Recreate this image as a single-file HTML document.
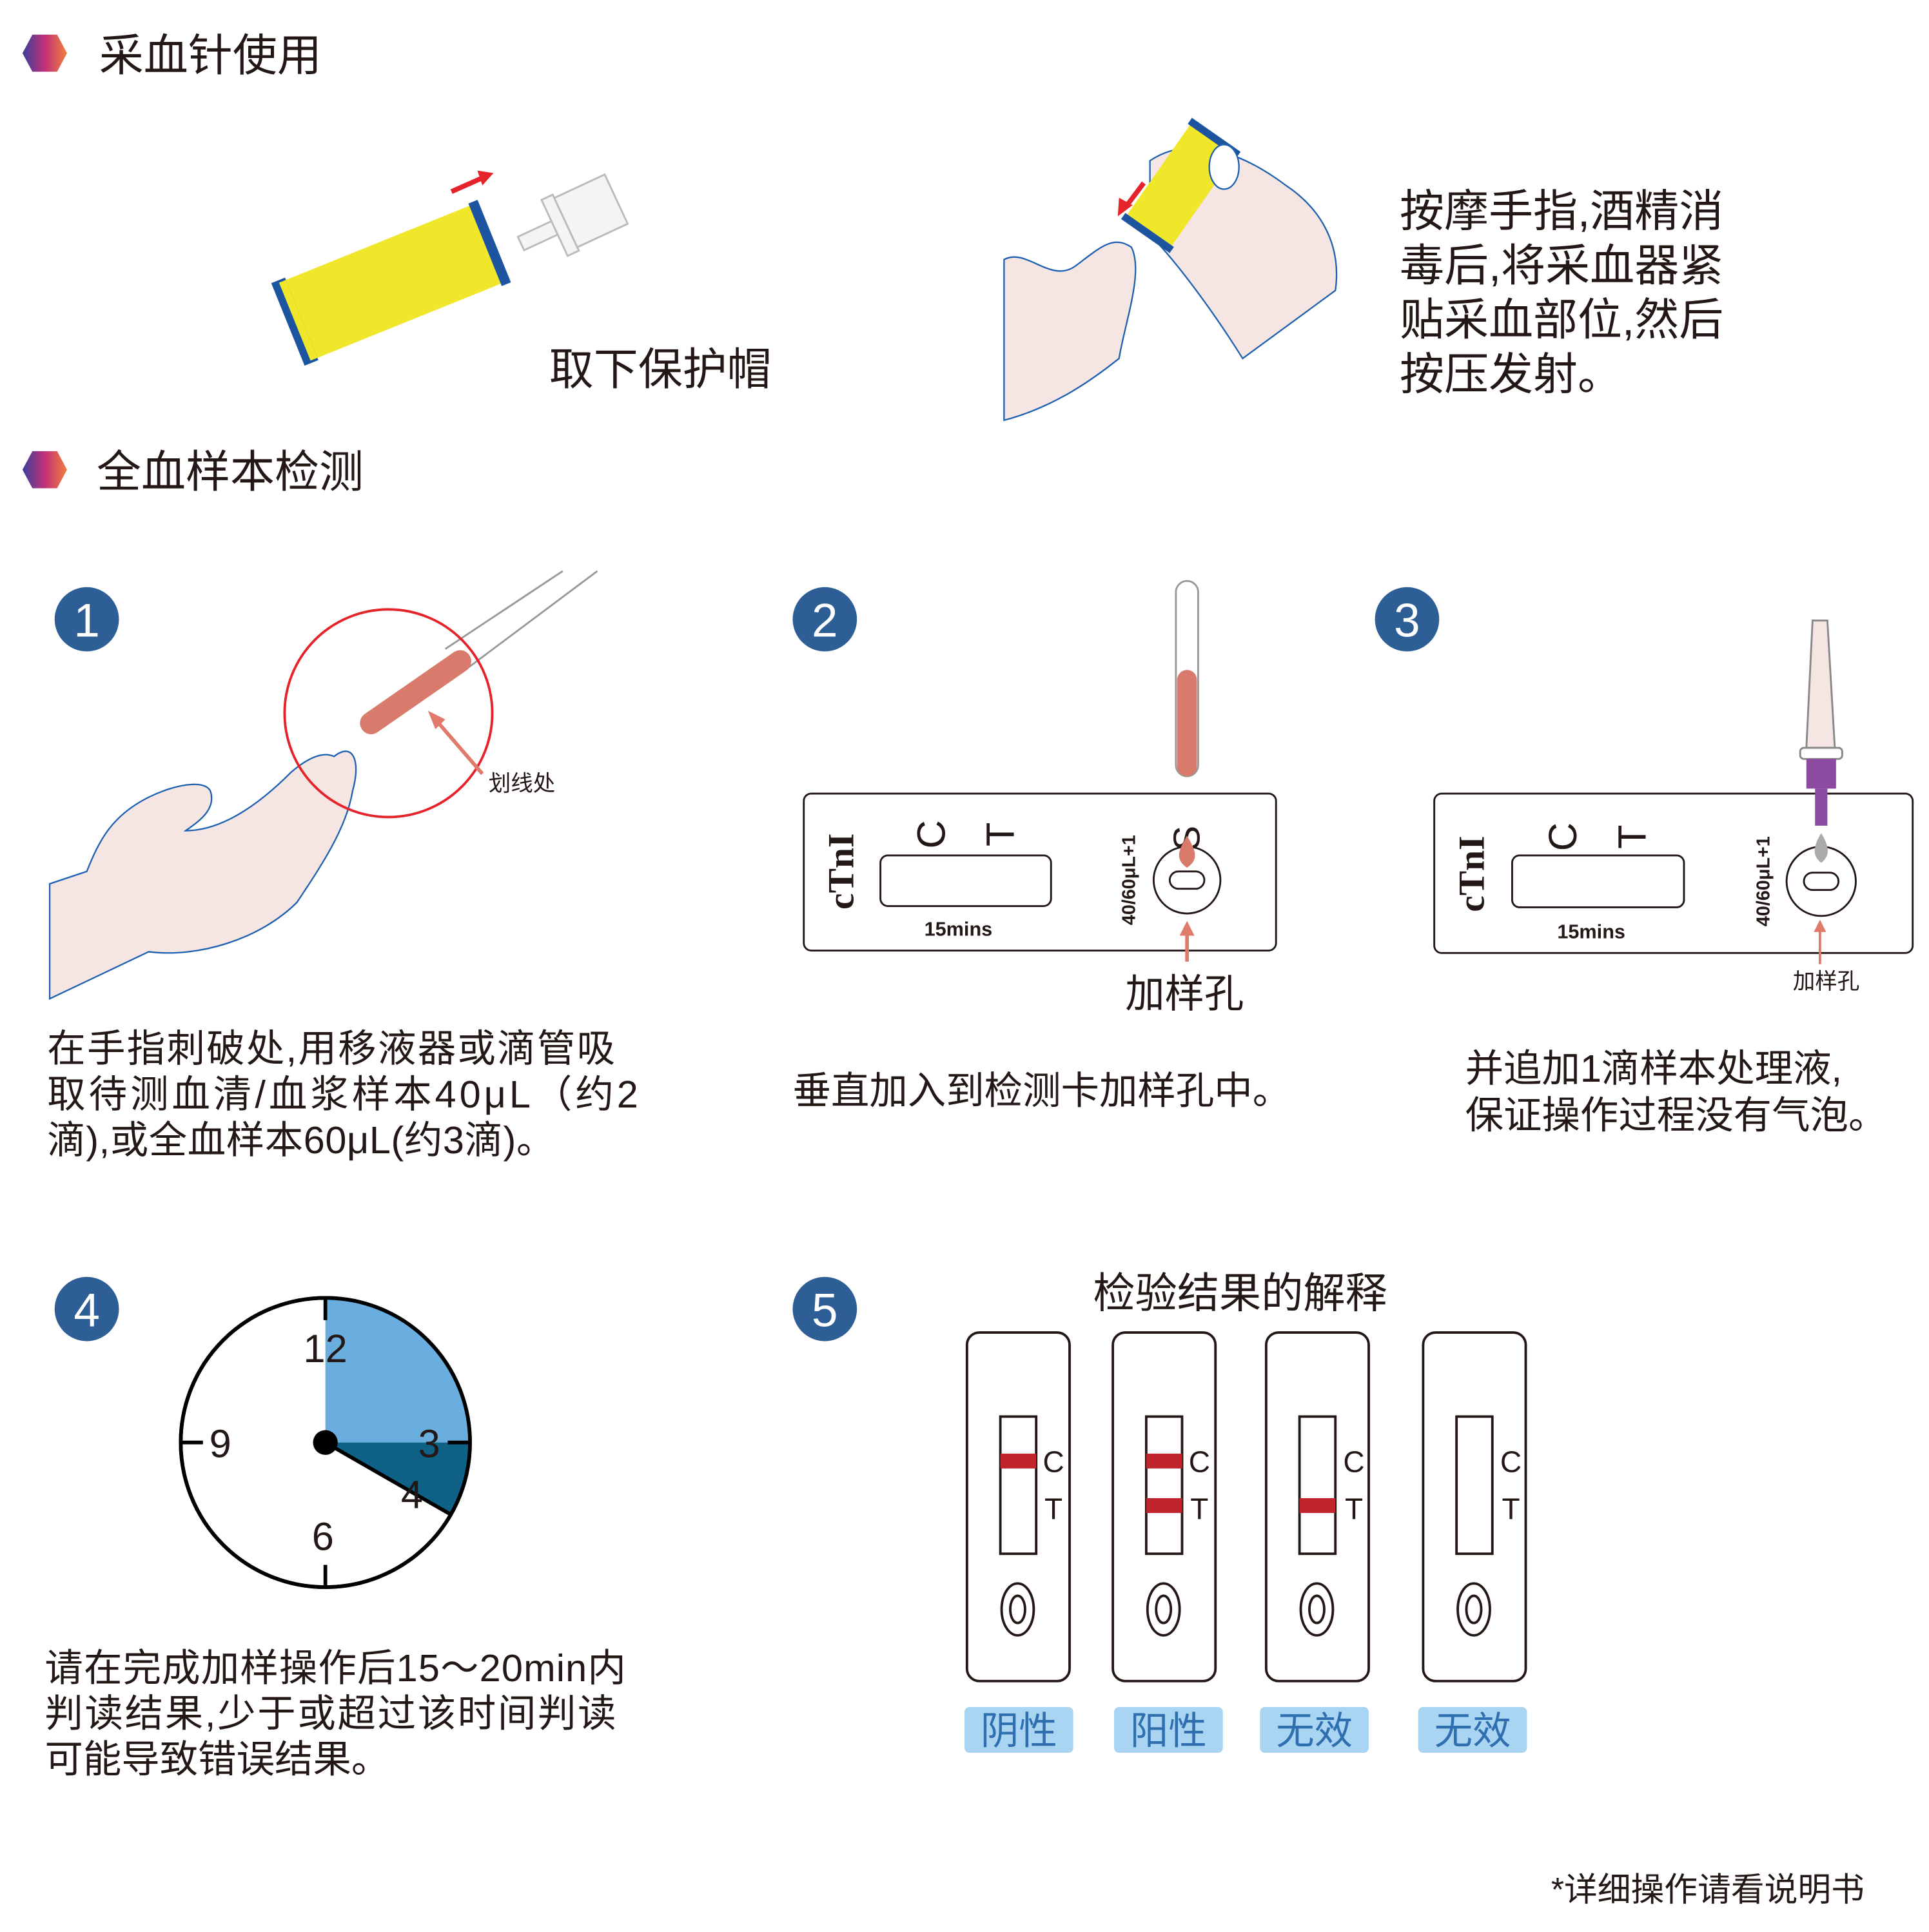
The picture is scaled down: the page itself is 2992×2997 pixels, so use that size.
<!DOCTYPE html>
<html><head><meta charset="utf-8"><style>
html,body{margin:0;padding:0;background:#fff}
svg{display:block}
text{font-family:"Liberation Sans","Noto Sans CJK SC",sans-serif;fill:#231815}
</style></head><body>
<svg width="2992" height="2997" viewBox="0 0 1560 1563" xmlns="http://www.w3.org/2000/svg">
<defs>
<linearGradient id="g" x1="0" x2="1" y1="0" y2="0"><stop offset="0" stop-color="#3a3f9c"/><stop offset="0.5" stop-color="#c2307a"/><stop offset="1" stop-color="#f07f3a"/></linearGradient>
</defs>
<rect width="1560" height="1563" fill="#fff"/>
<polygon points="18,43 26,28 46,28 54,43 46,58 26,58" fill="url(#g)"/>
<text x="80" y="57" font-size="36">采血针使用</text>
<polygon points="18,380 26,365 46,365 54,380 46,395 26,395" fill="url(#g)"/>
<text x="78" y="394" font-size="36">全血样本检测</text>

<g transform="translate(318,228) rotate(-22)">
<rect x="-80" y="-34" width="160" height="68" fill="#f0e62a"/>
<rect x="80" y="-36" width="8" height="72" fill="#1d54a0"/>
<rect x="-92" y="-36" width="12" height="72" fill="#1d54a0"/>
<rect x="-86" y="-34" width="6" height="68" fill="#f0e62a"/>
</g>
<line x1="365" y1="155" x2="392" y2="143" stroke="#e5232a" stroke-width="4"/>
<polygon points="399,140 386,138 390,150" fill="#e5232a"/>
<g transform="translate(462,178) rotate(-25)" fill="#f4f4f4" stroke="#bbb" stroke-width="1.5">
<rect x="-45" y="-6" width="30" height="12"/>
<rect x="-15" y="-25" width="10" height="50"/>
<rect x="-5" y="-22" width="45" height="44"/>
</g>
<text x="444" y="311" font-size="36">取下保护帽</text>

<path d="M812,210 C830,200 850,230 870,215 C890,200 900,190 915,200 C925,220 910,260 905,290 C880,310 850,330 812,340 Z" fill="#f5e6e4" stroke="#1d5fb0" stroke-width="1.2"/>
<path d="M930,130 C960,110 1000,120 1040,150 C1070,170 1085,200 1080,235 L1005,290 C980,250 950,210 930,190 Z" fill="#f5e6e4" stroke="#1d5fb0" stroke-width="1.2"/>
<g transform="translate(955,150) rotate(35)">
<rect x="-22" y="-45" width="44" height="90" fill="#f0e62a"/>
<rect x="-24" y="-50" width="48" height="6" fill="#1d54a0"/>
<rect x="-24" y="44" width="48" height="6" fill="#1d54a0"/>
</g>
<ellipse cx="990" cy="135" rx="12" ry="18" fill="#fff" stroke="#1d5fb0" stroke-width="1.2"/>
<line x1="925" y1="148" x2="910" y2="168" stroke="#e5232a" stroke-width="4"/>
<polygon points="904,175 905,160 916,166" fill="#e5232a"/>
<text font-size="36"><tspan x="1132" y="183">按摩手指,酒精消</tspan><tspan x="1132" y="227">毒后,将采血器紧</tspan><tspan x="1132" y="271">贴采血部位,然后</tspan><tspan x="1132" y="315">按压发射。</tspan></text>

<g fill="#2d5e95"><circle cx="70" cy="501" r="26"/><circle cx="667" cy="501" r="26"/><circle cx="1138" cy="501" r="26"/><circle cx="70" cy="1059" r="26"/><circle cx="667" cy="1059" r="26"/></g>
<g font-size="38" text-anchor="middle"><text x="70" y="515" style="fill:#fff">1</text><text x="667" y="515" style="fill:#fff">2</text><text x="1138" y="515" style="fill:#fff">3</text><text x="70" y="1073" style="fill:#fff">4</text><text x="667" y="1073" style="fill:#fff">5</text></g>

<path d="M40,715 L70,705 C80,680 90,660 120,645 C140,635 165,630 170,640 C175,655 160,665 150,672 C180,672 210,650 235,625 C250,612 262,608 270,612 C285,600 292,615 285,640 C280,670 260,700 240,730 C210,760 160,775 120,770 L40,808 Z" fill="#f5e6e4" stroke="#1d5fb0" stroke-width="1.2"/>
<line x1="360" y1="525" x2="455" y2="462" stroke="#999" stroke-width="1.5"/>
<line x1="372" y1="545" x2="483" y2="462" stroke="#999" stroke-width="1.5"/>
<line x1="300" y1="585" x2="372" y2="535" stroke="#d97b6c" stroke-width="18" stroke-linecap="round"/>
<circle cx="314" cy="577" r="84" fill="none" stroke="#e5232a" stroke-width="2"/>
<line x1="390" y1="626" x2="352" y2="582" stroke="#e07a6a" stroke-width="3"/>
<polygon points="346,575 360,582 352,590" fill="#e07a6a"/>
<text x="395" y="640" font-size="18">划线处</text>
<text font-size="31"><tspan x="38" y="859" letter-spacing="1.2">在手指刺破处,用移液器或滴管吸</tspan><tspan x="38" y="896" letter-spacing="2.6">取待测血清/血浆样本40μL（约2</tspan><tspan x="38" y="933" letter-spacing="0.3">滴),或全血样本60μL(约3滴)。</tspan></text>

<rect x="951" y="470" width="18" height="158" rx="9" fill="#fff" stroke="#999" stroke-width="1.5"/>
<rect x="952" y="542" width="16" height="86" rx="8" fill="#d97b6c"/>
<rect x="650" y="642" width="382" height="127" rx="6" fill="#fff" stroke="#231815" stroke-width="1.5"/>
<text transform="translate(690,705) rotate(-90)" font-size="30" font-weight="bold" text-anchor="middle" style="font-family:'Liberation Serif',serif">cTnI</text>
<text transform="translate(764,675) rotate(-90)" font-size="32" text-anchor="middle">C</text>
<text transform="translate(820,675) rotate(-90)" font-size="32" text-anchor="middle">T</text>
<rect x="712" y="692" width="138" height="41" rx="6" fill="#fff" stroke="#231815" stroke-width="1.5"/>
<text x="775" y="757" font-size="16" font-weight="bold" text-anchor="middle">15mins</text>
<text transform="translate(918,712) rotate(-90)" font-size="15" font-weight="bold" text-anchor="middle">40/60μL+1</text>
<text transform="translate(970,678) rotate(-90)" font-size="30" text-anchor="middle">S</text>
<circle cx="960" cy="712" r="27" fill="#fff" stroke="#231815" stroke-width="1.5"/>
<rect x="946" y="705" width="28" height="14" rx="7" fill="#fff" stroke="#231815" stroke-width="1.5"/>
<path d="M960,676 C953,688 950,695 960,702 C970,695 967,688 960,676 Z" fill="#d97b6c"/>
<line x1="960" y1="778" x2="960" y2="755" stroke="#e07a6a" stroke-width="3"/>
<polygon points="960,745 954,757 966,757" fill="#e07a6a"/>
<text x="958" y="815" font-size="32" text-anchor="middle">加样孔</text>
<text x="641" y="893" font-size="31">垂直加入到检测卡加样孔中。</text>

<rect x="1160" y="642" width="387" height="129" rx="6" fill="#fff" stroke="#231815" stroke-width="1.5"/>
<path d="M1466,502 L1478,502 L1484,605 L1461,605 Z" fill="#f5e6e4" stroke="#888" stroke-width="1.5"/>
<rect x="1456" y="605" width="34" height="9" rx="3" fill="#fff" stroke="#888" stroke-width="1.5"/>
<rect x="1461" y="614" width="24" height="24" fill="#8c4aa0"/>
<rect x="1468" y="638" width="10" height="30" fill="#8c4aa0"/>
<text transform="translate(1200,707) rotate(-90)" font-size="30" font-weight="bold" text-anchor="middle" style="font-family:'Liberation Serif',serif">cTnI</text>
<text transform="translate(1275,677) rotate(-90)" font-size="32" text-anchor="middle">C</text>
<text transform="translate(1331,677) rotate(-90)" font-size="32" text-anchor="middle">T</text>
<rect x="1223" y="692" width="139" height="42" rx="6" fill="#fff" stroke="#231815" stroke-width="1.5"/>
<text x="1287" y="759" font-size="16" font-weight="bold" text-anchor="middle">15mins</text>
<text transform="translate(1431,713) rotate(-90)" font-size="15" font-weight="bold" text-anchor="middle">40/60μL+1</text>
<circle cx="1473" cy="713" r="28" fill="#fff" stroke="#231815" stroke-width="1.5"/>
<rect x="1459" y="706" width="28" height="14" rx="7" fill="#fff" stroke="#231815" stroke-width="1.5"/>
<path d="M1473,674 C1467,684 1465,692 1473,698 C1481,692 1479,684 1473,674 Z" fill="#aaa"/>
<line x1="1472" y1="780" x2="1472" y2="752" stroke="#e07a6a" stroke-width="2"/>
<polygon points="1472,744 1467,754 1477,754" fill="#e07a6a"/>
<text x="1477" y="800" font-size="18" text-anchor="middle">加样孔</text>
<text font-size="31"><tspan x="1185" y="875">并追加1滴样本处理液,</tspan><tspan x="1185" y="913">保证操作过程没有气泡。</tspan></text>

<circle cx="263" cy="1167" r="117" fill="#fff" stroke="#000" stroke-width="3"/>
<path d="M263,1167 L263,1050 A117,117 0 0 1 380,1167 Z" fill="#6aaee0"/>
<path d="M263,1167 L380,1167 A117,117 0 0 1 364,1225 Z" fill="#0f6186"/>
<circle cx="263" cy="1167" r="117" fill="none" stroke="#000" stroke-width="3"/>
<g stroke="#000" stroke-width="3"><line x1="263" y1="1050" x2="263" y2="1068"/><line x1="263" y1="1266" x2="263" y2="1284"/><line x1="146" y1="1167" x2="164" y2="1167"/><line x1="362" y1="1167" x2="380" y2="1167"/><line x1="263" y1="1167" x2="364" y2="1225"/></g>
<circle cx="263" cy="1167" r="10" fill="#000"/>
<g font-size="32" text-anchor="middle"><text x="263" y="1102">12</text><text x="178" y="1179">9</text><text x="347" y="1179">3</text><text x="333" y="1220">4</text><text x="261" y="1254">6</text></g>
<text font-size="31"><tspan x="36" y="1360" letter-spacing="0.6">请在完成加样操作后15～20min内</tspan><tspan x="36" y="1397" letter-spacing="1.4">判读结果,少于或超过该时间判读</tspan><tspan x="36" y="1434">可能导致错误结果。</tspan></text>

<text x="1003" y="1058" font-size="34" text-anchor="middle">检验结果的解释</text>
<g fill="#fff" stroke="#231815" stroke-width="2">
<rect x="782" y="1078" width="83" height="282" rx="10"/><rect x="900" y="1078" width="83" height="282" rx="10"/><rect x="1024" y="1078" width="83" height="282" rx="10"/><rect x="1151" y="1078" width="83" height="282" rx="10"/>
<rect x="809" y="1146" width="29" height="111"/><rect x="927" y="1146" width="29" height="111"/><rect x="1051" y="1146" width="29" height="111"/><rect x="1178" y="1146" width="29" height="111"/>
<ellipse cx="823" cy="1302" rx="13" ry="21"/><ellipse cx="941" cy="1302" rx="13" ry="21"/><ellipse cx="1065" cy="1302" rx="13" ry="21"/><ellipse cx="1192" cy="1302" rx="13" ry="21"/>
<ellipse cx="823" cy="1302" rx="6" ry="11"/><ellipse cx="941" cy="1302" rx="6" ry="11"/><ellipse cx="1065" cy="1302" rx="6" ry="11"/><ellipse cx="1192" cy="1302" rx="6" ry="11"/>
</g>
<g fill="#c0242c"><rect x="809" y="1176" width="29" height="12"/><rect x="927" y="1176" width="29" height="12"/><rect x="927" y="1212" width="29" height="12"/><rect x="1051" y="1212" width="29" height="12"/></g>
<g font-size="24" text-anchor="middle"><text x="852" y="1191">C</text><text x="852" y="1229">T</text><text x="970" y="1191">C</text><text x="970" y="1229">T</text><text x="1095" y="1191">C</text><text x="1095" y="1229">T</text><text x="1222" y="1191">C</text><text x="1222" y="1229">T</text></g>
<g fill="#a9d4f2"><rect x="780" y="1381" width="88" height="37" rx="4"/><rect x="901" y="1381" width="88" height="37" rx="4"/><rect x="1019" y="1381" width="88" height="37" rx="4"/><rect x="1147" y="1381" width="88" height="37" rx="4"/></g>
<g font-size="31" text-anchor="middle"><text x="824" y="1411" style="fill:#2f6fb0">阴性</text><text x="945" y="1411" style="fill:#2f6fb0">阳性</text><text x="1063" y="1411" style="fill:#2f6fb0">无效</text><text x="1191" y="1411" style="fill:#2f6fb0">无效</text></g>
<text x="1508" y="1538" font-size="27" text-anchor="end">*详细操作请看说明书</text>
</svg>
</body></html>
